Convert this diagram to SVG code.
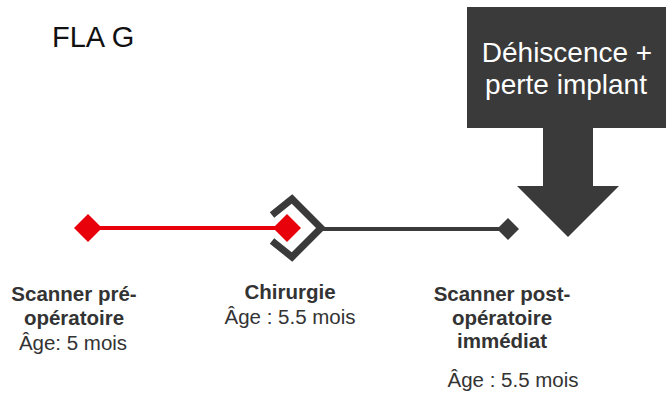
<svg xmlns="http://www.w3.org/2000/svg" width="666" height="405" viewBox="0 0 666 405">
  <style>
    .lbl { font-family: "Liberation Sans", Arial, sans-serif; font-size: 20.5px; fill: #333333; text-anchor: middle; }
    .b { font-weight: bold; }
    .box { font-family: "Liberation Sans", Arial, sans-serif; font-size: 28px; fill: #ffffff; text-anchor: middle; }
    .dark { fill: #3a3a3a; }
    .red { fill: #e8000b; }
  </style>
  <rect width="666" height="405" fill="#ffffff"/>
  <text id="title" x="52" y="47" font-family="Liberation Sans, Arial, sans-serif" font-size="29" fill="#111111">FLA G</text>

  <g id="connectors">
    <line x1="88" y1="228" x2="286" y2="228" stroke="#e8000b" stroke-width="4"/>
    <line x1="320" y1="229" x2="508" y2="229" stroke="#3a3a3a" stroke-width="4"/>
  </g>

  <g id="event">
    <rect class="dark" x="467" y="7" width="199" height="121"/>
    <polygon class="dark" points="543,127 593,127 593,186 619,186 568,237 517,186 543,186"/>
    <text class="box" x="567" y="62">Déhiscence +</text>
    <text class="box" x="566" y="94">perte implant</text>
  </g>

  <g id="node1">
    <polygon class="red" points="88,214 102,228 88,242 74,228"/>
    <text class="lbl b" x="74" y="301">Scanner pré-</text>
    <text class="lbl b" x="74" y="325">opératoire</text>
    <text class="lbl" x="73" y="350">Âge: 5 mois</text>
  </g>

  <g id="node2">
    <polyline points="272,215 292,199 321,228 292,257 272,241" fill="none" stroke="#3a3a3a" stroke-width="7" stroke-linejoin="miter"/>
    <polygon class="red" points="287,214 301,228 287,242 273,228"/>
    <text class="lbl b" x="290" y="299">Chirurgie</text>
    <text class="lbl" x="290" y="324">Âge : 5.5 mois</text>
  </g>

  <g id="node3">
    <polygon class="dark" points="508,218 519,229 508,240 497,229"/>
    <text class="lbl b" x="502" y="301">Scanner post-</text>
    <text class="lbl b" x="502" y="325">opératoire</text>
    <text class="lbl b" x="502" y="348">immédiat</text>
    <text class="lbl" x="513" y="387">Âge : 5.5 mois</text>
  </g>
</svg>
